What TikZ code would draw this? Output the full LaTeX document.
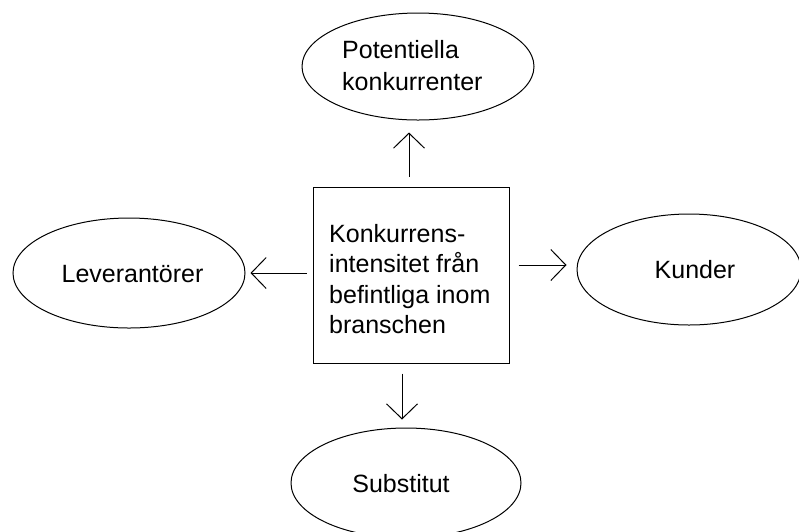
\documentclass[tikz,border=0pt]{standalone}
\usepackage{fontspec}
\setmainfont{Liberation Sans}
\usetikzlibrary{shapes.geometric,arrows.meta}
\begin{document}
\begin{tikzpicture}[x=1pt,y=-1pt,
  every node/.style={font=\fontsize{25}{31}\selectfont},
  oval/.style={draw,ellipse,line width=1pt,inner sep=0pt},
  txt/.style={inner sep=0pt},
  rect/.style={draw,line width=1pt,inner sep=0pt,minimum width=196pt,minimum height=176pt},
  arr/.style={line width=1pt,-{Straight Barb[length=15pt,width=31pt,line width=1pt]}}]
\fill[white] (0,0) rectangle (799,531);
\useasboundingbox (0,0) rectangle (799,531);
% shapes
\node[rect] (box) at (411,275) {};
\node[oval,minimum width=232pt,minimum height=107pt] (pot) at (418,66.5) {};
\node[oval,minimum width=232pt,minimum height=110pt] (lev) at (129,273) {};
\node[oval,minimum width=224pt,minimum height=111pt] (kund) at (689,269.5) {};
\node[oval,minimum width=230pt,minimum height=110pt] (sub) at (406,483) {};
% texts
\node[txt,align=left,anchor=north west,font=\fontsize{25}{30.5}\selectfont] (boxtxt) at (329,224) {Konkurrens-\\intensitet från\\befintliga inom\\branschen};
\node[txt,align=left,anchor=north west,font=\fontsize{25}{32}\selectfont] (pottxt) at (342,40) {Potentiella\\konkurrenter};
\node[txt,anchor=base] (levtxt) at (132.5,282) {Leverantörer};
\node[txt,anchor=base] (kundtxt) at (695,278) {Kunder};
\node[txt,anchor=base] (subtxt) at (401,492) {Substitut};
% arrows
\draw[arr,shorten <=10pt,shorten >=12pt] ([xshift=-2pt]box.north) -- ([xshift=-9pt]pot.south);
\draw[arr,shorten <=6pt,shorten >=5pt] ([yshift=2pt]box.west) -- (lev.east);
\draw[arr,shorten <=9pt,shorten >=10pt] ([yshift=10pt]box.east) -- ([yshift=4.5pt]kund.west);
\draw[arr,shorten <=10pt,shorten >=8pt] ([xshift=-9pt]box.south) -- ([xshift=-4pt]sub.north);
\end{tikzpicture}
\end{document}
